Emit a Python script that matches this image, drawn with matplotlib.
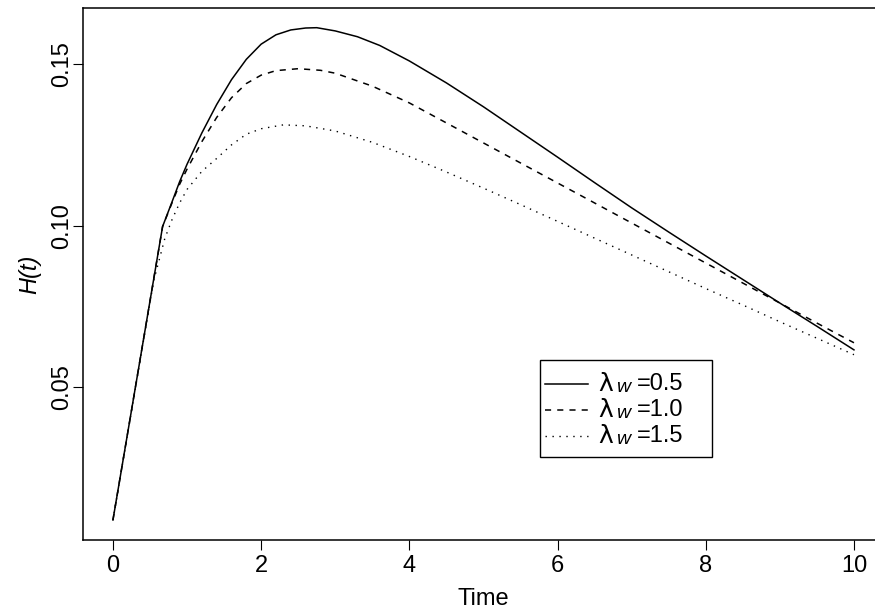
import matplotlib
matplotlib.use("Agg")
import matplotlib.pyplot as plt
from matplotlib.patches import Rectangle

# ---- data ----
t_solid = [0, 0.67, 0.8, 0.9, 1.0, 1.2, 1.4, 1.6, 1.8, 2.0, 2.2, 2.4, 2.6, 2.75,
           3.0, 3.3, 3.6, 4.0, 4.5, 5.0, 5.5, 6.0, 6.5, 7.0, 7.5, 8.0, 8.5, 9.0, 9.5, 10.0]
h_solid = [0.0088, 0.0997, 0.1075, 0.1136, 0.1190, 0.1287, 0.1375, 0.1452, 0.1515,
           0.1562, 0.1591, 0.1606, 0.1612, 0.1613, 0.1603, 0.1585, 0.1558, 0.1510,
           0.1442, 0.1368, 0.1290, 0.1212, 0.1133, 0.1055, 0.0980, 0.0906, 0.0833,
           0.0760, 0.0688, 0.0615]

t_dash = [0, 0.67, 0.8, 0.9, 1.0, 1.2, 1.4, 1.6, 1.8, 2.0, 2.2, 2.5, 2.8,
          3.0, 3.5, 4.0, 4.5, 5.0, 5.5, 6.0, 6.5, 7.0, 7.5, 8.0, 8.5, 9.0, 9.5, 10.0]
h_dash = [0.0088, 0.0997, 0.1072, 0.1128, 0.1175, 0.1260, 0.1335, 0.1396, 0.1440,
          0.1466, 0.1480, 0.1486, 0.1481, 0.1472, 0.1432, 0.1380, 0.1318, 0.1256,
          0.1194, 0.1132, 0.1070, 0.1008, 0.0946, 0.0884, 0.0822, 0.0760, 0.0698,
          0.0637]

t_dot = [0, 0.55, 0.7, 0.8, 0.9, 1.0, 1.2, 1.4, 1.6, 1.8, 2.0, 2.3, 2.6, 3.0,
         3.5, 4.0, 4.5, 5.0, 5.5, 6.0, 6.5, 7.0, 7.5, 8.0, 8.5, 9.0, 9.5, 10.0]
h_dot = [0.0088, 0.0829, 0.0960, 0.1020, 0.1070, 0.1112, 0.1168, 0.1208, 0.1250,
         0.1283, 0.1300, 0.1312, 0.1309, 0.1293, 0.1258, 0.1214, 0.1166, 0.1116,
         0.1065, 0.1013, 0.0961, 0.0909, 0.0857, 0.0805, 0.0754, 0.0702, 0.0651, 0.0600]

x_ticks = [0, 2, 4, 6, 8, 10]
y_ticks = [0.05, 0.10, 0.15]
y_tick_labels = ["0.05", "0.10", "0.15"]
legend_values = ["0.5", "1.0", "1.5"]

plt.rcParams['font.family'] = ['Liberation Sans', 'DejaVu Sans']

W, H = 875, 614
fig = plt.figure(figsize=(W / 100, H / 100), dpi=100)
fig.patch.set_facecolor("white")

left, right, top, bottom = 83.3, 883.6, 8, 540
ax = fig.add_axes([left / W, 1 - bottom / H, (right - left) / W, (bottom - top) / H])

styles = [dict(ls="-", lw=1.1), dict(ls=(0, (4, 4)), lw=1.1), dict(ls=(0, (1, 4)), lw=1.0)]
series = [(t_solid, h_solid), (t_dash, h_dash), (t_dot, h_dot)]
for (tt, hh), st in zip(series, styles):
    ax.plot(tt, hh, color="black", **st)

ax.set_xlim(-0.4, 10.4)
ax.set_ylim(0.0026, 0.1674)

ax.set_xticks(x_ticks)
ax.set_xticklabels([str(v) for v in x_ticks])
ax.set_yticks(y_ticks)
ax.set_yticklabels(y_tick_labels, rotation=90, va="center")

ax.tick_params(direction="out", length=7, width=0.8, labelsize=17, colors="black")
ax.tick_params(axis="x", pad=3.8)
ax.tick_params(axis="y", pad=0.5)

for s in ax.spines.values():
    s.set_linewidth(1.1)

ax.set_xlabel("Time", fontsize=17, labelpad=8)
ax.set_ylabel("H(t)", fontsize=17, style="italic", labelpad=7)

# ---- legend drawn in pixel positions converted to axes fractions ----
def ax_x(px):
    return (px - left) / (right - left)

def ax_y(py):
    return (bottom - py) / (bottom - top)

box_l, box_r, box_t, box_b = 540, 712, 360, 457
ax.add_patch(Rectangle((ax_x(box_l), ax_y(box_b)), ax_x(box_r) - ax_x(box_l),
                       ax_y(box_t) - ax_y(box_b), transform=ax.transAxes,
                       facecolor="white", edgecolor="black", lw=1.0, zorder=5))
row_y = [384, 410, 436]
for ry, st, val in zip(row_y, styles, legend_values):
    ax.plot([ax_x(545), ax_x(588)], [ax_y(ry), ax_y(ry)], transform=ax.transAxes,
            color="black", zorder=6, **st)
    ax.text(ax_x(598), ax_y(ry), "λ", transform=ax.transAxes, fontsize=18,
            family=["DejaVu Sans"], ha="left", va="center", zorder=6)
    ax.text(ax_x(616), ax_y(ry + 4), "w", transform=ax.transAxes, fontsize=14,
            style="italic", ha="left", va="center", zorder=6)
    ax.text(ax_x(637), ax_y(ry), "=" + val, transform=ax.transAxes, fontsize=17,
            ha="left", va="center", zorder=6)

fig.savefig("out.png", dpi=100)
